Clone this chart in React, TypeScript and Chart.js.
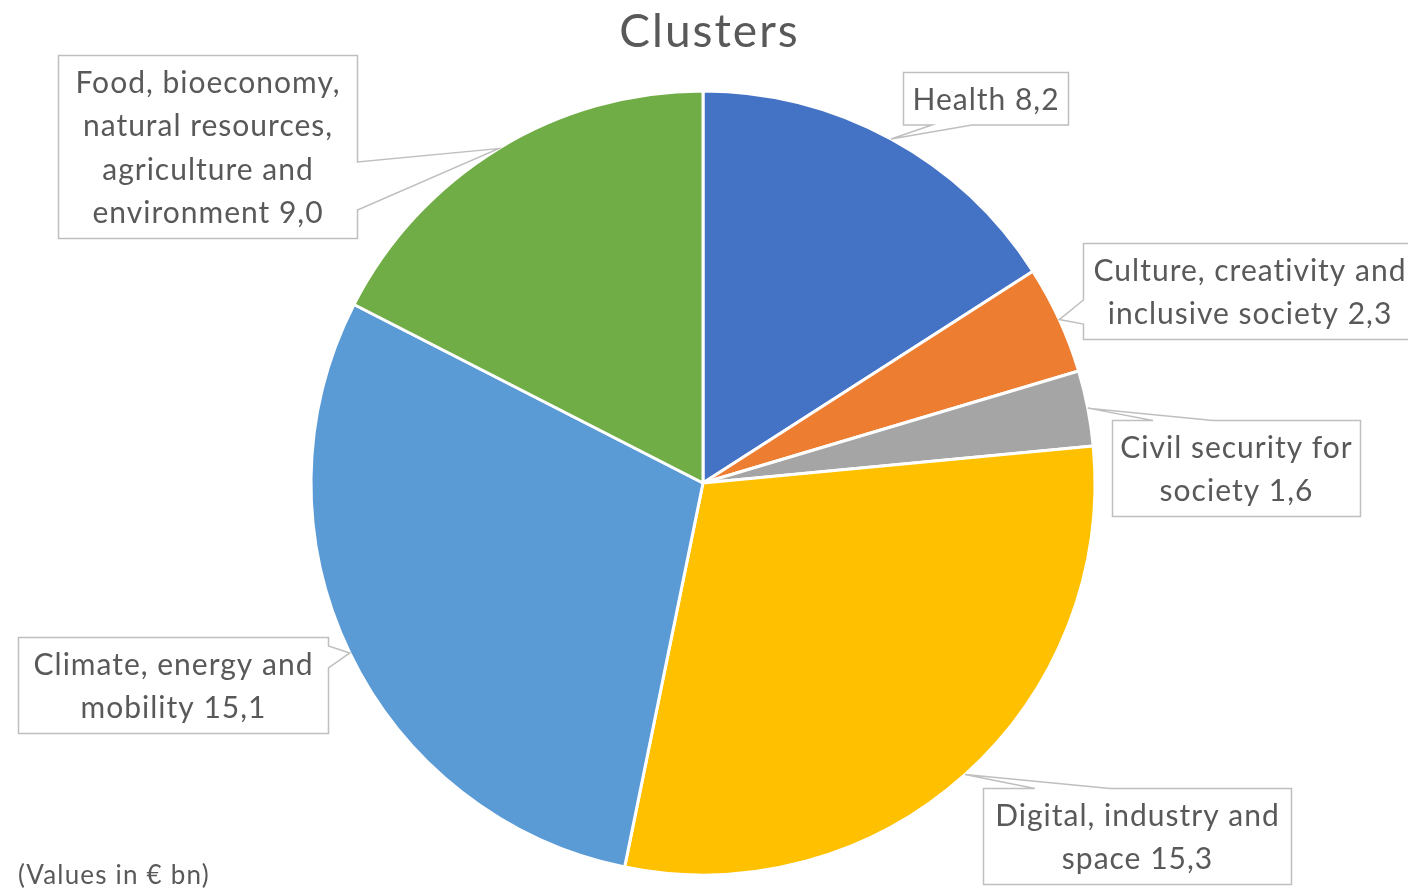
import React, { useEffect, useRef } from "react";
import { Chart, registerables } from "chart.js";

Chart.register(...registerables);

// ---- data ----
const categoryLines: string[][] = [
  ["Health"],
  ["Culture, creativity and", "inclusive society"],
  ["Civil security for", "society"],
  ["Digital, industry and", "space"],
  ["Climate, energy and", "mobility"],
  ["Food, bioeconomy,", "natural resources,", "agriculture and", "environment"],
];
const values: number[] = [8.2, 2.3, 1.6, 15.3, 15.1, 9.0];
const colors: string[] = ["#4472C4", "#ED7D31", "#A5A5A5", "#FFC000", "#5B9BD5", "#70AD47"];
const titleText = "Clusters";
const footnoteText = "(Values in € bn)";

// ---- label callout layout (box position + edge where the pointer leaves) ----
type Callout = { x: number; y: number; w: number; edge: "top" | "bottom" | "left" | "right"; b0: number; b1: number };
const callouts: Callout[] = [
  { x: 903, y: 72, w: 165, edge: "bottom", b0: 932, b1: 972 },
  { x: 1083, y: 243, w: 333, edge: "left", b0: 300, b1: 324 },
  { x: 1112, y: 420, w: 248, edge: "top", b0: 1153, b1: 1213 },
  { x: 983, y: 788, w: 308, edge: "top", b0: 1035, b1: 1110 },
  { x: 18, y: 637, w: 310, edge: "right", b0: 646, b1: 668 },
  { x: 58, y: 55, w: 299, edge: "right", b0: 162, b1: 210 },
];

const FONT = "Lato, 'Noto Sans', sans-serif";
const TEXT_COLOR = "#595959";
const LINE_H = 43.5;
const fmt = (v: number) => v.toFixed(1).replace(".", ",");

const labelPlugin = {
  id: "calloutLabels",
  afterDraw(chart: any) {
    const ctx = chart.ctx as any;
    const meta = chart.getDatasetMeta(0);
    ctx.save();
    // title
    ctx.fillStyle = TEXT_COLOR;
    ctx.font = `46px ${FONT}`;
    ctx.letterSpacing = "2px";
    ctx.textAlign = "center";
    ctx.textBaseline = "alphabetic";
    ctx.fillText(titleText, 709.5, 47);
    // footnote
    ctx.font = `26px ${FONT}`;
    ctx.letterSpacing = "1.2px";
    ctx.textAlign = "left";
    ctx.fillText(footnoteText, 18, 884);

    meta.data.forEach((arc: any, i: number) => {
      const c = callouts[i];
      if (!c) return;
      const lines = categoryLines[i].slice();
      lines[lines.length - 1] = lines[lines.length - 1] + " " + fmt(values[i]);
      const h = lines.length * LINE_H + 9;
      const mid = (arc.startAngle + arc.endAngle) / 2;
      const tx = arc.x + Math.cos(mid) * arc.outerRadius;
      const ty = arc.y + Math.sin(mid) * arc.outerRadius;
      const x = Math.round(c.x) + 0.5;
      const y = Math.round(c.y) + 0.5;
      const w = c.w;
      ctx.beginPath();
      ctx.moveTo(x, y);
      if (c.edge === "top") { ctx.lineTo(c.b0, y); ctx.lineTo(tx, ty); ctx.lineTo(c.b1, y); }
      ctx.lineTo(x + w, y);
      if (c.edge === "right") { ctx.lineTo(x + w, c.b0); ctx.lineTo(tx, ty); ctx.lineTo(x + w, c.b1); }
      ctx.lineTo(x + w, y + h);
      if (c.edge === "bottom") { ctx.lineTo(c.b1, y + h); ctx.lineTo(tx, ty); ctx.lineTo(c.b0, y + h); }
      ctx.lineTo(x, y + h);
      if (c.edge === "left") { ctx.lineTo(x, c.b1); ctx.lineTo(tx, ty); ctx.lineTo(x, c.b0); }
      ctx.closePath();
      ctx.fillStyle = "#FFFFFF";
      ctx.fill();
      ctx.strokeStyle = "#BFBFBF";
      ctx.lineWidth = 1.5;
      ctx.stroke();

      ctx.fillStyle = TEXT_COLOR;
      ctx.font = `30px ${FONT}`;
      ctx.letterSpacing = "1px";
      ctx.textAlign = "center";
      ctx.textBaseline = "alphabetic";
      lines.forEach((ln, j) => {
        ctx.fillText(ln, c.x + w / 2 + 0.5, c.y + 4.5 + j * LINE_H + 33);
      });
    });
    ctx.restore();
  },
};

export default function App() {
  const ref = useRef<HTMLCanvasElement | null>(null);
  useEffect(() => {
    if (!ref.current) return;
    const chart = new Chart(ref.current, {
      type: "pie",
      data: {
        labels: categoryLines.map((l) => l.join(" ")),
        datasets: [
          {
            data: values,
            backgroundColor: colors,
            borderColor: "#FFFFFF",
            borderWidth: 3,
            hoverOffset: 0,
            offset: 0,
          },
        ],
      },
      options: {
        responsive: false,
        devicePixelRatio: 1,
        animation: false,
        events: [],
        radius: 392,
        rotation: 0,
        layout: { padding: { top: 91, bottom: 15, left: 311, right: 313 } },
        plugins: {
          legend: { display: false },
          title: { display: false },
          tooltip: { enabled: false },
        },
      } as any,
      plugins: [labelPlugin],
    });
    return () => chart.destroy();
  }, []);
  return (
    <div style={{ position: "fixed", left: 0, top: 0, width: 1408, height: 890, background: "#fff" }}>
      <canvas ref={ref} width={1408} height={890} style={{ display: "block" }} />
    </div>
  );
}
